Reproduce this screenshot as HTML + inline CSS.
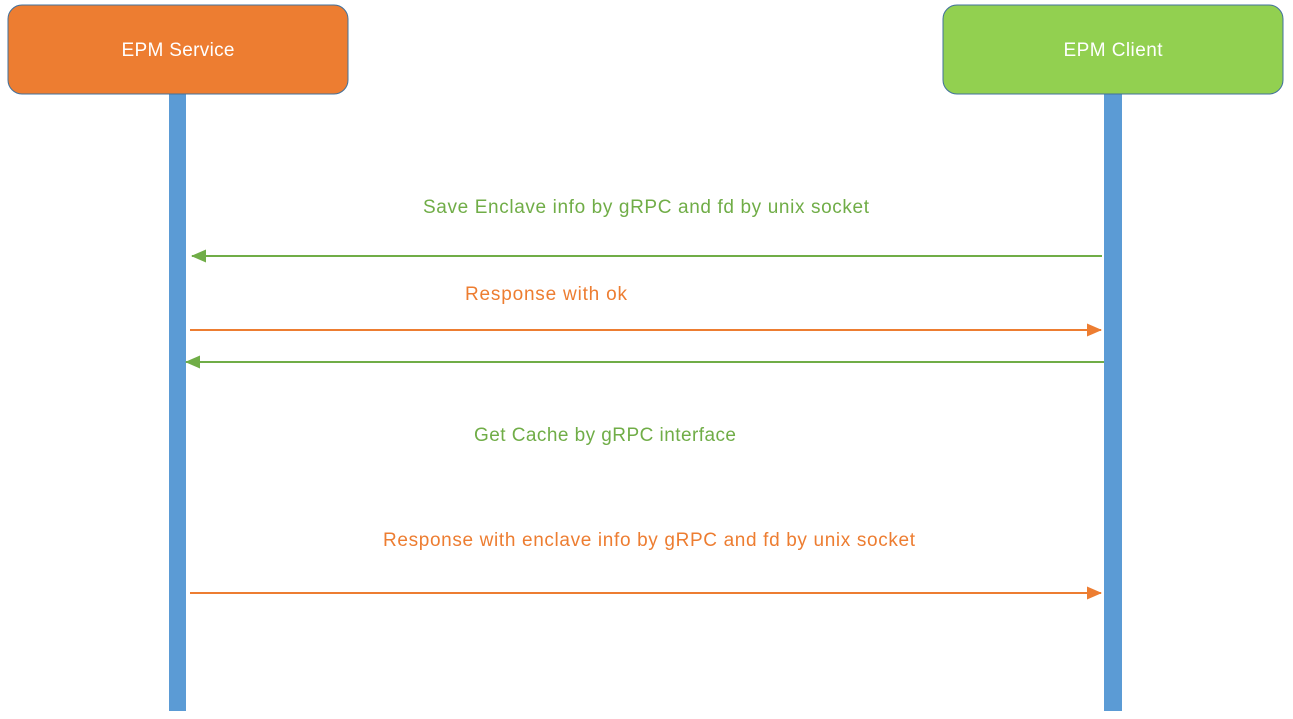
<!DOCTYPE html>
<html><head><meta charset="utf-8"><style>
body{margin:0;background:#fff;width:1293px;height:714px;overflow:hidden;font-family:"Liberation Sans",sans-serif}
</style></head><body>
<svg width="1293" height="714">
<defs>
<marker id="ao" markerWidth="15" markerHeight="13" refX="14" refY="6.5" orient="auto" markerUnits="userSpaceOnUse" viewBox="0 0 15 13"><path d="M0,0 L15,6.5 L0,13 z" fill="#ED7D31"/></marker>
<marker id="ag" markerWidth="15" markerHeight="13" refX="14" refY="6.5" orient="auto" markerUnits="userSpaceOnUse" viewBox="0 0 15 13"><path d="M0,0 L15,6.5 L0,13 z" fill="#70AD47"/></marker>
</defs>
<rect x="169" y="94" width="17" height="617" fill="#5B9BD5"/>
<rect x="1104" y="94" width="18" height="617" fill="#5B9BD5"/>
<rect x="8" y="5" width="340" height="89" rx="14" fill="#ED7D31" stroke="#41719C" stroke-width="1"/>
<text x="178" y="56" text-anchor="middle" font-size="19" textLength="113" fill="#fff">EPM Service</text>
<rect x="943" y="5" width="340" height="89" rx="14" fill="#92D050" stroke="#41719C" stroke-width="1"/>
<text x="1113" y="56" text-anchor="middle" font-size="19" textLength="99" fill="#fff">EPM Client</text>

<text x="646" y="213" text-anchor="middle" font-size="19" textLength="446" fill="#70AD47">Save Enclave info by gRPC  and fd by unix socket</text>
<line x1="1102" y1="256" x2="192" y2="256" stroke="#70AD47" stroke-width="2" marker-end="url(#ag)"/>
<text x="546" y="300" text-anchor="middle" font-size="19" textLength="162" fill="#ED7D31">Response with ok</text>
<line x1="190" y1="330" x2="1101" y2="330" stroke="#ED7D31" stroke-width="2" marker-end="url(#ao)"/>
<line x1="1104" y1="362" x2="186" y2="362" stroke="#70AD47" stroke-width="2" marker-end="url(#ag)"/>
<text x="605" y="441" text-anchor="middle" font-size="19" textLength="262" fill="#70AD47">Get Cache by gRPC interface</text>
<text x="649" y="546" text-anchor="middle" font-size="19" textLength="532" fill="#ED7D31">Response with enclave info by gRPC and fd by unix socket</text>
<line x1="190" y1="593" x2="1101" y2="593" stroke="#ED7D31" stroke-width="2" marker-end="url(#ao)"/>
</svg>
</body></html>
